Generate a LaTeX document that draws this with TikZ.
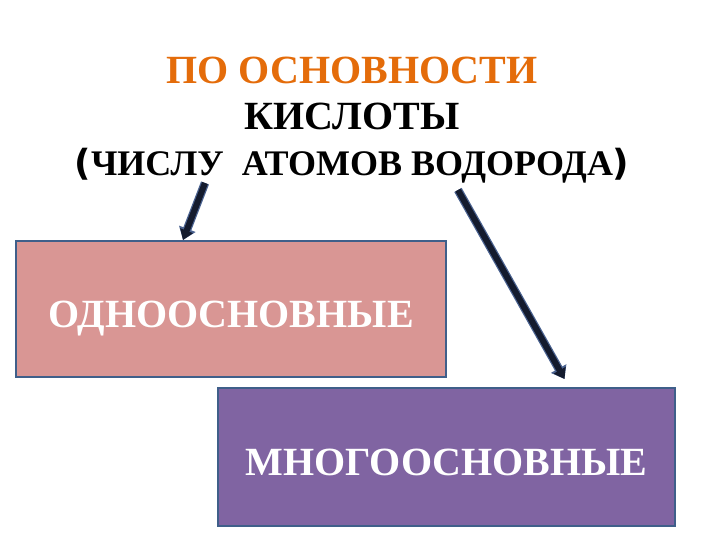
\documentclass[tikz,border=0pt]{standalone}
\usepackage{fontspec}
\setmainfont{Liberation Serif}
\newfontfamily\parenfont{DejaVu Sans}
\usetikzlibrary{arrows.meta,calc}

\definecolor{titleorange}{HTML}{E46C0A}
\definecolor{onefill}{HTML}{D99694}
\definecolor{manyfill}{HTML}{8064A2}
\definecolor{boxedge}{HTML}{3F5F8A}
\definecolor{arrowdark}{HTML}{141B2E}
\definecolor{arrowedge}{HTML}{4A6290}

\begin{document}
\begin{tikzpicture}[
		x=1bp, y=-1bp,
		kind/.style={rectangle, draw=boxedge, line width=2bp, inner sep=0pt, text=white,
			font=\fontsize{40bp}{42bp}\selectfont\bfseries, text height=36bp, text depth=0pt},
		pointer/.style={line width=6bp, draw=arrowdark, -{Triangle[length=10bp,width=13bp]},
			preaction={draw=arrowedge, line width=8.5bp, -{Triangle[length=12bp,width=17bp]}}}
	]
		\useasboundingbox (0,0) rectangle (720,540);

		% Title
		\node[anchor=north, align=center, inner sep=0pt, font=\fontsize{40bp}{46bp}\selectfont\bfseries] (title) at (352,57)
			{\textcolor{titleorange}{ПО ОСНОВНОСТИ}\\КИСЛОТЫ\\
			\fontsize{36bp}{46bp}\selectfont{\parenfont(}ЧИСЛУ~~АТОМОВ ВОДОРОДА{\parenfont)}};

		% Kinds
		\node[kind, fill=onefill, minimum width=430bp, minimum height=136bp] (odno) at (231,309) {ОДНООСНОВНЫЕ};
		\node[kind, fill=manyfill, minimum width=457bp, minimum height=138bp] (mnogo) at (446.5,457) {МНОГООСНОВНЫЕ};

		% Arrows
		\coordinate (from1) at (205,183);
		\coordinate (from2) at (458,190);
		\draw[pointer] (from1) -- ($(odno.north)+(-48,0)$);
		\draw[pointer] (from2) -- ($(mnogo.north)+(118,-8)$);
	\end{tikzpicture}
\end{document}
